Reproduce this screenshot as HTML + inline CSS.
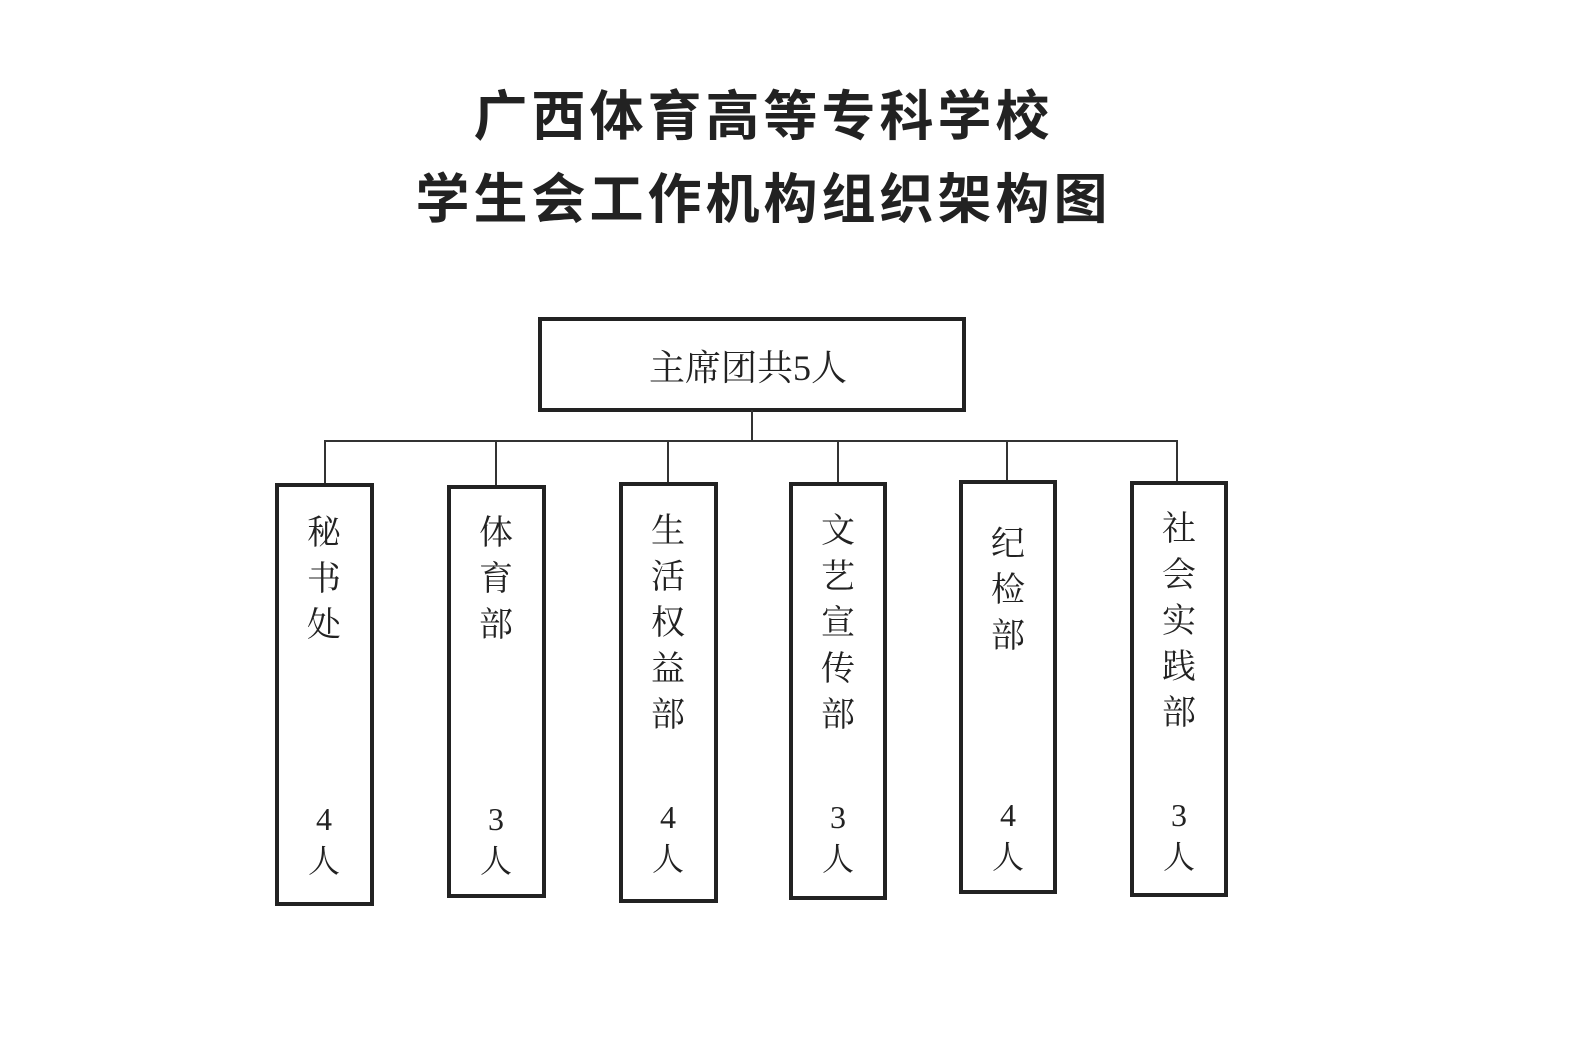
<!DOCTYPE html>
<html><head><meta charset="utf-8"><style>
body{margin:0;width:1586px;height:1063px;background:#fff;position:relative;overflow:hidden;font-family:"Liberation Serif","Noto Serif CJK SC",serif;color:#222}
.t{position:absolute;left:0;width:1520px;text-align:center;font-family:"Liberation Sans","Noto Sans CJK SC",sans-serif;font-weight:bold;font-size:54px;letter-spacing:4px;color:#222}
.b{position:absolute;border:4px solid #222;box-sizing:border-box}
.l{position:absolute;background:#333}
.v{position:absolute;width:60px;text-align:center;font-size:34px;line-height:46px}
.n{position:absolute;width:60px;text-align:center;font-size:32px;line-height:42px}
</style></head><body>
<div class="t" style="top:72px;left:0;width:1527px">广西体育高等专科学校</div>
<div class="t" style="top:155px;left:0;width:1527px">学生会工作机构组织架构图</div>
<div class="b" style="left:538px;top:317px;width:428px;height:95px"></div>
<div style="position:absolute;left:538px;top:340px;width:420px;text-align:center;font-size:36px">主席团共5人</div>
<div class="l" style="left:751px;top:410px;width:2px;height:32px"></div>
<div class="l" style="left:324px;top:440px;width:853px;height:2px"></div>
<div class="l" style="left:324px;top:440px;width:2px;height:44px"></div>
<div class="l" style="left:495px;top:440px;width:2px;height:46px"></div>
<div class="l" style="left:667px;top:440px;width:2px;height:43px"></div>
<div class="l" style="left:837px;top:440px;width:2px;height:43px"></div>
<div class="l" style="left:1006px;top:440px;width:2px;height:41px"></div>
<div class="l" style="left:1176px;top:440px;width:2px;height:42px"></div>

<div class="b" style="left:275px;top:483px;width:99px;height:423px"></div>
<div class="v" style="left:294px;top:511px">秘<br>书<br>处</div>
<div class="n" style="left:294px;top:798px">4<br>人</div>

<div class="b" style="left:447px;top:485px;width:99px;height:413px"></div>
<div class="v" style="left:466px;top:511px">体<br>育<br>部</div>
<div class="n" style="left:466px;top:798px">3<br>人</div>

<div class="b" style="left:619px;top:482px;width:99px;height:421px"></div>
<div class="v" style="left:638px;top:509px">生<br>活<br>权<br>益<br>部</div>
<div class="n" style="left:638px;top:796px">4<br>人</div>

<div class="b" style="left:789px;top:482px;width:98px;height:418px"></div>
<div class="v" style="left:808px;top:509px">文<br>艺<br>宣<br>传<br>部</div>
<div class="n" style="left:808px;top:796px">3<br>人</div>

<div class="b" style="left:959px;top:480px;width:98px;height:414px"></div>
<div class="v" style="left:978px;top:522px">纪<br>检<br>部</div>
<div class="n" style="left:978px;top:794px">4<br>人</div>

<div class="b" style="left:1130px;top:481px;width:98px;height:416px"></div>
<div class="v" style="left:1149px;top:507px">社<br>会<br>实<br>践<br>部</div>
<div class="n" style="left:1149px;top:794px">3<br>人</div>
</body></html>
